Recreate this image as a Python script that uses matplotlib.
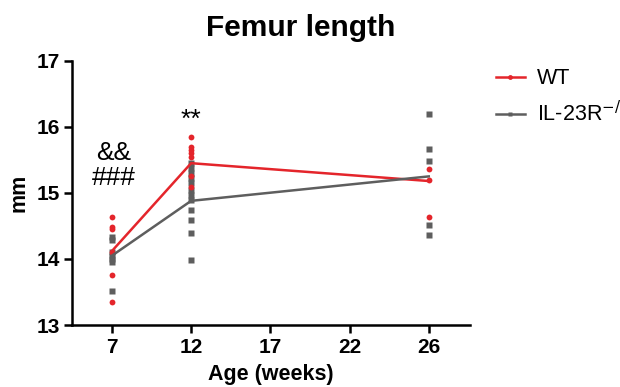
import matplotlib
matplotlib.use("Agg")
import matplotlib.pyplot as plt
from matplotlib.lines import Line2D

plt.rcParams['font.family'] = ['Liberation Sans', 'DejaVu Sans']

# tick positions are evenly spaced; last tick labelled 26
x_ticks = [7, 12, 17, 22, 27]
x_ticklabels = ['7', '12', '17', '22', '26']
ages = [7, 12, 27]

wt_mean = [14.12, 15.45, 15.18]
ko_mean = [14.05, 14.88, 15.25]

wt_7 = [14.63, 14.49, 14.45, 14.10, 13.76, 13.35]
wt_12 = [15.85, 15.70, 15.65, 15.60, 15.55, 15.25, 15.09]
wt_26 = [15.36, 15.20, 14.64]

ko_7 = [14.33, 14.28, 14.10, 14.05, 14.00, 13.95, 13.52]
ko_12 = [15.45, 15.38, 15.30, 15.22, 15.15, 15.05, 14.97, 14.89, 14.74, 14.59, 14.39, 13.98]
ko_26 = [16.20, 15.67, 15.48, 14.51, 14.36]

red = '#E4252B'
gray = '#5E5E5E'

fig = plt.figure(figsize=(6.2, 3.87), dpi=100)
ax = fig.add_axes([0.1166, 0.160, 0.758 - 0.1166, 0.843 - 0.160])

for x, vals in zip(ages, [ko_7, ko_12, ko_26]):
    ax.plot([x] * len(vals), vals, linestyle='none', marker='s', ms=4.2,
            color=gray, mec='none', zorder=3)
for x, vals in zip(ages, [wt_7, wt_12, wt_26]):
    ax.plot([x] * len(vals), vals, linestyle='none', marker='o', ms=4.2,
            color=red, mec='none', zorder=4)

ax.plot(ages, wt_mean, color=red, lw=1.8, zorder=5)
ax.plot(ages, ko_mean, color=gray, lw=1.8, zorder=5)

ax.set_xlim(4.5, 29.6)
ax.set_ylim(13, 17)
ax.set_xticks(x_ticks)
ax.set_xticklabels(x_ticklabels)
ax.set_yticks([13, 14, 15, 16, 17])

for s in ['top', 'right']:
    ax.spines[s].set_visible(False)
for s in ['left', 'bottom']:
    ax.spines[s].set_linewidth(1.8)
ax.tick_params(axis='both', width=1.8, length=6, labelsize=15, pad=3)
for lab in ax.get_xticklabels() + ax.get_yticklabels():
    lab.set_fontweight('bold')

ax.set_xlabel('Age (weeks)', fontsize=15.5, fontweight='bold', labelpad=5)
ax.set_ylabel('mm', fontsize=15.5, fontweight='bold', labelpad=5)
fig.text(0.485, 0.928, 'Femur length', ha='center', va='center',
         fontsize=21.5, fontweight='bold')

ax.text(7.1, 15.6, '&&', ha='center', va='center', fontsize=19)
ax.text(7.1, 15.22, '###', ha='center', va='center', fontsize=19)
ax.text(12, 16.1, '**', ha='center', va='center', fontsize=19)

h1 = Line2D([], [], color=red, lw=1.8, marker='o', ms=3.5, mec='none')
h2 = Line2D([], [], color=gray, lw=1.8, marker='s', ms=3.5, mec='none')
fig.legend([h1, h2], ['WT', 'IL-23R$^{-/-}$'], loc='upper left',
           bbox_to_anchor=(0.793, 0.835), frameon=False, fontsize=15.5,
           handlelength=1.35, handletextpad=0.55, labelspacing=0.55,
           borderaxespad=0, borderpad=0.2)

fig.savefig('out.png', dpi=100)
